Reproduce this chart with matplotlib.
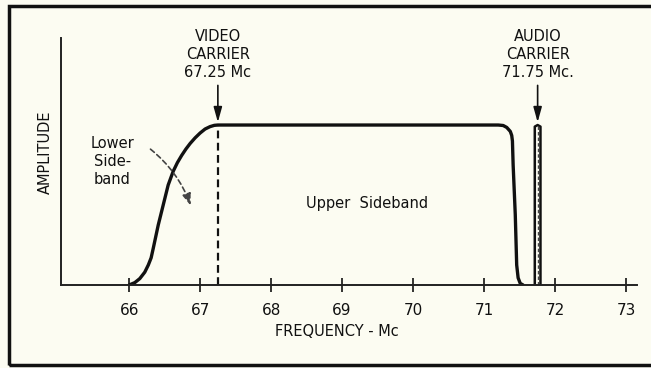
import numpy as np
import matplotlib
matplotlib.use('Agg')
import matplotlib.pyplot as plt
from matplotlib.patches import Rectangle

# television channel response (frequency in Mc, relative amplitude)
resp_freq = [66.0, 66.08, 66.15, 66.22, 66.27, 66.31, 66.34, 66.41, 66.48, 66.55, 66.62, 66.68,
             66.74, 66.80, 66.86, 66.93, 67.0, 67.07, 67.14, 67.20, 67.25,
             71.20, 71.27, 71.32, 71.37, 71.39, 71.40, 71.41, 71.44, 71.46, 71.48, 71.51, 71.55]
resp_amp = [0.0, 0.015, 0.04, 0.08, 0.125, 0.17, 0.23, 0.375, 0.5, 0.625, 0.71, 0.765,
            0.81, 0.85, 0.885, 0.92, 0.95, 0.975, 0.99, 0.998, 1.0,
            1.0, 0.997, 0.985, 0.96, 0.935, 0.90, 0.75, 0.44, 0.125, 0.045, 0.01, 0.0]

video_carrier = 67.25
audio_carrier = 71.755
audio_lo, audio_hi = 71.715, 71.795
carrier_amp = 1.0

xticks = [66, 67, 68, 69, 70, 71, 72, 73]

bg = '#fcfcf2'
fig = plt.figure(figsize=(6.51, 3.68), dpi=100, facecolor=bg)
ax = fig.add_axes([61/651, 1-285/368, 576/651, 247/368])
ax.set_facecolor(bg)
ax.set_xlim(65.04, 73.155)
ax.set_ylim(0, 1.544)

for s in ['top', 'right']:
    ax.spines[s].set_visible(False)
for s in ['left', 'bottom']:
    ax.spines[s].set_linewidth(1.4)
    ax.spines[s].set_color('#222222')

ax.set_xticks(xticks)
ax.set_xticklabels([str(t) for t in xticks])
ax.tick_params(axis='x', direction='inout', length=10, width=1.2, pad=8, labelsize=11, colors='#111111')
ax.set_yticks([])

# main response curve
ax.plot(resp_freq, resp_amp, color='#111111', lw=2.4, solid_capstyle='round', solid_joinstyle='round')

# video carrier marker
ax.plot([video_carrier, video_carrier], [0, carrier_amp], color='#111111', lw=1.6, ls=(0, (3.5, 2)))
ax.annotate('', xy=(video_carrier, carrier_amp), xytext=(video_carrier, 1.265),
            arrowprops=dict(arrowstyle='-|>,head_length=0.9,head_width=0.25', color='#111111', lw=1.2))
ax.text(video_carrier, 1.44, 'VIDEO\nCARRIER\n67.25 Mc', ha='center', va='center',
        fontsize=10.5, linespacing=1.25, color='#111111')

# audio carrier: narrow band with dashed centre
top = carrier_amp
ax.plot([audio_lo, audio_lo, audio_carrier, audio_hi, audio_hi], [0, top - 0.01, top, top - 0.01, 0],
        color='#111111', lw=1.8, solid_joinstyle='round')
ax.plot([audio_carrier, audio_carrier], [0, top], color='#444444', lw=1.0, ls=(0, (2.5, 1.5)))
ax.annotate('', xy=(audio_carrier, carrier_amp), xytext=(audio_carrier, 1.265),
            arrowprops=dict(arrowstyle='-|>,head_length=0.9,head_width=0.25', color='#111111', lw=1.2))
ax.text(audio_carrier, 1.44, 'AUDIO\nCARRIER\n71.75 Mc.', ha='center', va='center',
        fontsize=10.5, linespacing=1.25, color='#111111')

# sideband labels
ax.text(65.76, 0.77, 'Lower\nSide-\nband', ha='center', va='center', fontsize=10.5,
        linespacing=1.25, color='#111111')
ax.annotate('', xy=(66.88, 0.48), xytext=(66.27, 0.86),
            arrowprops=dict(arrowstyle='-|>,head_length=0.7,head_width=0.25', color='#444444',
                            lw=1.2, ls=(0, (3, 2)), connectionstyle='arc3,rad=-0.15'))
ax.text(69.35, 0.51, 'Upper  Sideband', ha='center', va='center', fontsize=10.5, color='#111111')

fig.text(45/651, 1-152/368, 'AMPLITUDE', rotation=90, ha='center', va='center', fontsize=10.5, color='#111111')
fig.text(337/651, 1-331/368, 'FREQUENCY - Mc', ha='center', va='center', fontsize=10.5, color='#111111')

# outer frame
fig.patches.append(Rectangle((9/651, 1-365/368), 1.0, 359/368, transform=fig.transFigure,
                             fill=False, edgecolor='#111111', lw=2.5))

fig.savefig('out.png', dpi=100, facecolor=bg)
